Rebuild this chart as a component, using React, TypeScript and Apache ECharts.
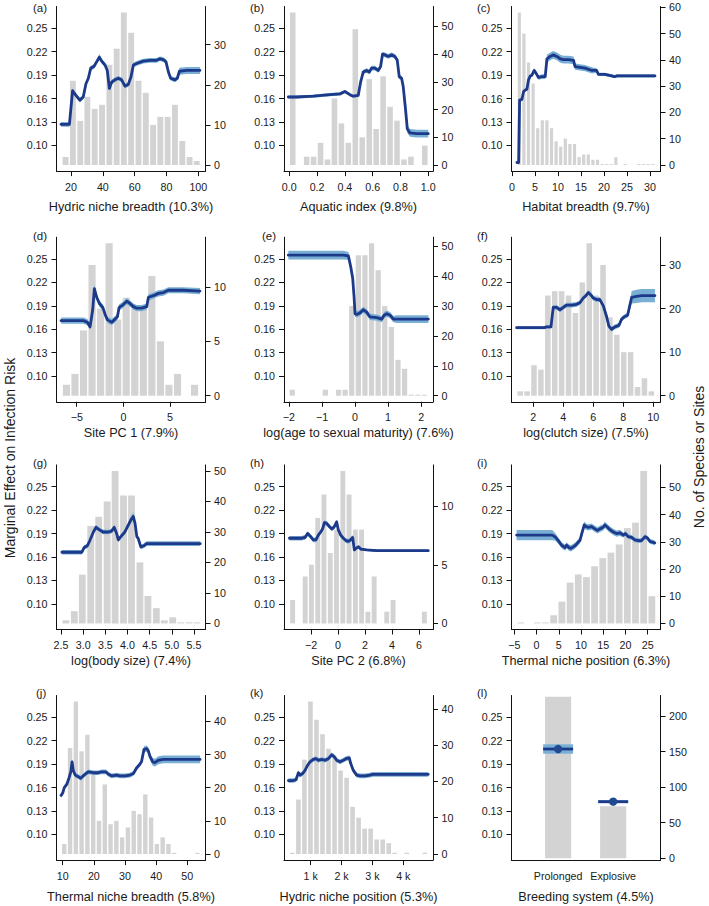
import React, { useEffect, useRef } from "react";
import * as echarts from "echarts";

// ---------------- (a) Hydric niche breadth ----------------
const hydBreadthBins = [16.6, 21.2, 25.8, 30.3, 34.9, 39.5, 44.1, 48.7, 53.2, 57.8, 62.4, 67.0, 71.6, 76.1, 80.7, 85.3, 89.9, 94.5, 99.0];
const hydBreadthCounts = [2, 21, 11, 17, 14, 15, 25, 29, 38, 33, 21, 18, 10, 12, 12, 15, 6, 2, 1];
const hydBreadthX = [13.7, 19.0, 21.0, 23.1, 25.6, 27.7, 29.4, 30.9, 32.4, 34.4, 36.1, 37.8, 39.3, 41.4, 42.8, 44.1, 45.5, 47.6, 49.7, 51.8, 53.9, 56.0, 57.7, 59.2, 61.3, 65.4, 69.6, 73.8, 75.9, 78.0, 79.7, 81.2, 82.6, 85.3, 86.8, 88.1, 92.7, 101.0];
const hydBreadthEffect = [0.127, 0.127, 0.170, 0.164, 0.158, 0.162, 0.179, 0.186, 0.199, 0.201, 0.207, 0.213, 0.208, 0.203, 0.196, 0.173, 0.181, 0.184, 0.186, 0.184, 0.176, 0.178, 0.188, 0.203, 0.205, 0.208, 0.209, 0.209, 0.211, 0.210, 0.207, 0.194, 0.186, 0.184, 0.186, 0.195, 0.196, 0.196];
const hydBreadthCI = [0.003, 0.003, 0.003, 0.003, 0.003, 0.003, 0.003, 0.003, 0.003, 0.003, 0.003, 0.004, 0.003, 0.003, 0.003, 0.003, 0.003, 0.003, 0.003, 0.003, 0.003, 0.003, 0.003, 0.003, 0.003, 0.003, 0.003, 0.003, 0.003, 0.003, 0.003, 0.003, 0.003, 0.003, 0.003, 0.0045, 0.0045, 0.0045];

// ---------------- (b) Aquatic index ----------------
const aquaticBins = [0.025, 0.125, 0.175, 0.225, 0.275, 0.325, 0.375, 0.425, 0.475, 0.525, 0.575, 0.625, 0.675, 0.725, 0.775, 0.825, 0.875, 0.975];
const aquaticCounts = [55, 3, 3, 8, 2, 24, 15, 8, 49, 10, 31, 13, 32, 21, 16, 2, 3, 7];
const aquaticX = [-0.007, 0.053, 0.173, 0.293, 0.365, 0.400, 0.436, 0.460, 0.496, 0.513, 0.532, 0.556, 0.576, 0.592, 0.616, 0.640, 0.657, 0.671, 0.688, 0.712, 0.736, 0.760, 0.777, 0.791, 0.808, 0.820, 0.837, 0.849, 0.868, 0.916, 1.0];
const aquaticEffect = [0.162, 0.162, 0.163, 0.165, 0.166, 0.169, 0.165, 0.163, 0.164, 0.181, 0.194, 0.196, 0.194, 0.199, 0.199, 0.196, 0.201, 0.217, 0.216, 0.214, 0.216, 0.214, 0.209, 0.188, 0.186, 0.175, 0.145, 0.121, 0.116, 0.115, 0.115];
const aquaticCI = [0.002, 0.002, 0.002, 0.002, 0.002, 0.002, 0.002, 0.002, 0.002, 0.003, 0.003, 0.003, 0.003, 0.003, 0.003, 0.003, 0.003, 0.003, 0.003, 0.003, 0.003, 0.003, 0.003, 0.003, 0.003, 0.003, 0.005, 0.005, 0.005, 0.005, 0.005];

// ---------------- (c) Habitat breadth ----------------
const habitatBins = [1.6, 2.6, 3.6, 4.6, 5.6, 6.6, 7.6, 8.6, 9.6, 10.6, 11.6, 12.6, 13.6, 14.6, 15.6, 16.6, 17.6, 18.6, 19.6, 20.6, 21.6, 22.6, 23.6, 24.6, 25.6, 26.6, 27.6, 28.6, 29.6, 30.6];
const habitatCounts = [58, 50, 39, 31, 14, 17, 17, 14, 9, 7, 10, 8, 8, 3, 4, 4, 2, 2, 0.35, 0.35, 0.35, 3, 0, 0.35, 0, 0, 0.35, 0.35, 0.35, 0.35];
const habitatX = [1.08, 1.45, 1.66, 2.17, 2.53, 2.9, 3.25, 3.6, 3.98, 4.34, 4.84, 5.28, 5.78, 6.5, 7.23, 7.6, 8.3, 9.0, 9.76, 10.5, 11.2, 12.3, 13.4, 13.7, 14.8, 15.9, 17.4, 18.4, 18.8, 20.2, 21.7, 22.3, 22.8, 26.0, 31.1];
const habitatEffect = [0.078, 0.078, 0.158, 0.159, 0.169, 0.171, 0.172, 0.184, 0.189, 0.190, 0.196, 0.192, 0.187, 0.188, 0.188, 0.211, 0.214, 0.216, 0.214, 0.211, 0.210, 0.210, 0.209, 0.201, 0.200, 0.199, 0.196, 0.196, 0.191, 0.191, 0.189, 0.188, 0.189, 0.189, 0.189];
const habitatCI = [0.002, 0.002, 0.002, 0.002, 0.002, 0.002, 0.002, 0.002, 0.002, 0.002, 0.003, 0.003, 0.003, 0.003, 0.003, 0.005, 0.005, 0.005, 0.005, 0.005, 0.005, 0.005, 0.005, 0.004, 0.004, 0.004, 0.004, 0.003, 0.002, 0.002, 0.002, 0.002, 0.002, 0.002, 0.002];

// ---------------- (d) Site PC 1 ----------------
const pc1Bins = [-6.10, -5.19, -4.27, -3.36, -2.44, -1.53, -0.61, 0.30, 1.22, 2.14, 3.05, 3.97, 4.88, 5.80, 6.71, 7.63];
const pc1Counts = [1, 2, 6, 12, 8, 14, 7, 9, 8, 8, 11, 5, 1, 2, 0, 1];
const pc1X = [-6.68, -5.71, -4.29, -3.86, -3.57, -3.29, -3.11, -2.86, -2.57, -2.21, -1.96, -1.71, -1.25, -0.89, -0.64, -0.46, -0.07, 0.36, 0.71, 1.07, 1.43, 1.96, 2.5, 2.68, 3.21, 3.75, 4.29, 4.82, 6.43, 8.21];
const pc1Effect = [0.171, 0.171, 0.171, 0.169, 0.163, 0.185, 0.212, 0.201, 0.193, 0.188, 0.179, 0.172, 0.169, 0.173, 0.176, 0.188, 0.191, 0.196, 0.193, 0.189, 0.187, 0.187, 0.189, 0.201, 0.203, 0.206, 0.207, 0.210, 0.210, 0.209];
const pc1CI = [0.004, 0.004, 0.004, 0.004, 0.004, 0.004, 0.005, 0.004, 0.004, 0.004, 0.004, 0.004, 0.004, 0.004, 0.004, 0.004, 0.004, 0.004, 0.004, 0.004, 0.004, 0.004, 0.004, 0.004, 0.004, 0.004, 0.004, 0.004, 0.004, 0.004];

// ---------------- (e) log(age to sexual maturity) ----------------
const ageBins = [-1.9, -0.9, -0.5, -0.3, -0.1, 0.1, 0.3, 0.5, 0.7, 0.9, 1.1, 1.3, 1.5, 1.7, 1.9, 2.1];
const ageCounts = [2, 2, 2, 2, 30, 47, 47, 51, 42, 30, 23, 12, 9, 0.35, 0.35, 0.35];
const ageX = [-2.02, -1.26, -0.76, -0.35, -0.20, -0.13, -0.07, -0.03, 0.0, 0.05, 0.15, 0.25, 0.35, 0.45, 0.66, 0.81, 0.88, 0.96, 1.06, 1.16, 1.26, 1.87, 2.22];
const ageEffect = [0.255, 0.255, 0.255, 0.255, 0.254, 0.240, 0.225, 0.202, 0.180, 0.179, 0.181, 0.185, 0.182, 0.176, 0.175, 0.173, 0.178, 0.180, 0.178, 0.173, 0.173, 0.173, 0.173];
const ageCI = [0.0055, 0.0055, 0.0055, 0.0055, 0.005, 0.004, 0.004, 0.004, 0.004, 0.004, 0.004, 0.004, 0.004, 0.004, 0.004, 0.004, 0.004, 0.004, 0.004, 0.004, 0.005, 0.005, 0.005];

// ---------------- (f) log(clutch size) ----------------
const clutchBins = [1.13, 1.59, 2.05, 2.51, 2.97, 3.43, 3.89, 4.35, 4.81, 5.27, 5.73, 6.19, 6.65, 7.11, 7.57, 8.03, 8.49, 8.95, 9.41, 9.87];
const clutchCounts = [1, 1, 7, 6, 23, 24, 24, 23, 19, 26, 35, 23, 30, 18, 14, 10, 10, 2, 4, 1];
const clutchX = [0.89, 1.89, 2.73, 2.89, 3.18, 3.33, 3.56, 3.78, 4.0, 4.22, 4.56, 4.89, 5.11, 5.33, 5.51, 5.67, 5.84, 6.0, 6.22, 6.44, 6.67, 6.89, 7.04, 7.22, 7.44, 7.71, 7.89, 8.07, 8.29, 8.44, 8.56, 8.89, 9.22, 10.11];
const clutchEffect = [0.162, 0.162, 0.162, 0.163, 0.163, 0.188, 0.188, 0.185, 0.188, 0.191, 0.191, 0.192, 0.194, 0.200, 0.203, 0.207, 0.204, 0.200, 0.198, 0.198, 0.190, 0.176, 0.164, 0.160, 0.163, 0.165, 0.173, 0.176, 0.178, 0.191, 0.201, 0.202, 0.203, 0.203];
const clutchCI = [0.002, 0.002, 0.002, 0.002, 0.002, 0.003, 0.003, 0.003, 0.003, 0.003, 0.003, 0.003, 0.003, 0.003, 0.003, 0.003, 0.003, 0.003, 0.003, 0.003, 0.003, 0.003, 0.003, 0.003, 0.003, 0.003, 0.003, 0.003, 0.003, 0.006, 0.008, 0.0085, 0.0085, 0.0085];

// ---------------- (g) log(body size) ----------------
const bodyBins = [2.61, 2.80, 2.98, 3.17, 3.35, 3.54, 3.72, 3.91, 4.09, 4.28, 4.46, 4.65, 4.83, 5.02, 5.20, 5.39, 5.57];
const bodyCounts = [1, 4, 16, 32, 35, 40, 50, 42, 42, 20, 9, 5, 1, 2, 0.35, 0.35, 0.35];
const bodyX = [2.52, 2.78, 2.97, 3.02, 3.09, 3.15, 3.23, 3.29, 3.36, 3.45, 3.57, 3.64, 3.70, 3.76, 3.79, 3.85, 3.94, 4.02, 4.09, 4.13, 4.17, 4.21, 4.24, 4.30, 4.36, 4.43, 4.58, 4.88, 5.64];
const bodyEffect = [0.166, 0.166, 0.166, 0.172, 0.174, 0.181, 0.192, 0.198, 0.195, 0.192, 0.192, 0.193, 0.198, 0.189, 0.182, 0.186, 0.192, 0.201, 0.209, 0.212, 0.203, 0.186, 0.184, 0.173, 0.174, 0.177, 0.177, 0.177, 0.177];
const bodyCI = [0.003, 0.003, 0.003, 0.003, 0.003, 0.003, 0.003, 0.003, 0.003, 0.003, 0.003, 0.003, 0.003, 0.003, 0.003, 0.003, 0.003, 0.003, 0.0045, 0.005, 0.0045, 0.003, 0.003, 0.003, 0.003, 0.003, 0.003, 0.003, 0.003];

// ---------------- (h) Site PC 2 ----------------
const pc2Bins = [-3.36, -2.90, -2.43, -1.97, -1.50, -1.04, -0.57, -0.11, 0.36, 0.82, 1.29, 1.75, 2.22, 2.68, 3.15, 3.61, 4.08, 4.54, 5.01, 5.47, 5.94, 6.40];
const pc2Counts = [2, 0, 4, 5, 9, 11, 6, 8, 13, 11, 8, 8, 1, 4, 0, 1, 2, 0, 0, 0, 0, 1];
const pc2X = [-3.6, -3.31, -2.69, -2.44, -2.25, -2.07, -1.83, -1.63, -1.46, -1.28, -1.14, -1.01, -0.84, -0.64, -0.47, -0.3, -0.1, 0.02, 0.2, 0.4, 0.59, 0.77, 0.94, 1.09, 1.21, 1.33, 1.51, 1.7, 2.12, 2.86, 4.35, 6.69];
const pc2Effect = [0.184, 0.184, 0.184, 0.185, 0.190, 0.187, 0.182, 0.182, 0.188, 0.192, 0.196, 0.204, 0.203, 0.199, 0.196, 0.198, 0.205, 0.195, 0.188, 0.184, 0.181, 0.180, 0.182, 0.185, 0.169, 0.171, 0.173, 0.170, 0.169, 0.168, 0.168, 0.168];
const pc2CI = [0.003, 0.003, 0.003, 0.003, 0.003, 0.003, 0.003, 0.003, 0.003, 0.003, 0.003, 0.003, 0.003, 0.003, 0.003, 0.003, 0.003, 0.003, 0.003, 0.003, 0.003, 0.003, 0.003, 0.003, 0.002, 0.002, 0.002, 0.002, 0.0015, 0.0015, 0.0015, 0.0015];

// ---------------- (i) Thermal niche position ----------------
const thermPosBins = [-3.5, -1.66, 0.18, 2.02, 3.86, 5.70, 7.54, 9.38, 11.22, 13.06, 14.90, 16.74, 18.58, 20.42, 22.26, 24.10, 25.94];
const thermPosCounts = [0.35, 0, 0.35, 0.35, 3, 8, 15, 18, 17, 21, 24, 26, 29, 35, 37, 56, 10];
const thermPosX = [-4.48, -1.1, 1.9, 3.54, 4.14, 4.89, 5.64, 6.39, 6.76, 7.28, 7.73, 8.26, 8.78, 9.38, 9.76, 10.13, 10.73, 11.1, 11.63, 12.38, 13.13, 13.73, 14.25, 15.0, 15.37, 15.97, 16.5, 17.25, 18.0, 18.75, 19.5, 20.0, 20.6, 21.4, 22.1, 22.9, 23.6, 24.4, 25.0, 25.5, 26.6];
const thermPosEffect = [0.188, 0.188, 0.188, 0.188, 0.186, 0.181, 0.175, 0.172, 0.175, 0.172, 0.171, 0.173, 0.175, 0.179, 0.181, 0.189, 0.201, 0.199, 0.198, 0.199, 0.196, 0.194, 0.196, 0.198, 0.201, 0.198, 0.195, 0.192, 0.190, 0.191, 0.188, 0.190, 0.186, 0.185, 0.182, 0.181, 0.181, 0.186, 0.184, 0.180, 0.178];
const thermPosCI = [0.0065, 0.0065, 0.0065, 0.0065, 0.005, 0.004, 0.004, 0.004, 0.004, 0.004, 0.004, 0.004, 0.004, 0.004, 0.004, 0.004, 0.0045, 0.004, 0.004, 0.004, 0.004, 0.004, 0.004, 0.004, 0.004, 0.004, 0.004, 0.004, 0.004, 0.004, 0.003, 0.003, 0.003, 0.003, 0.003, 0.003, 0.003, 0.003, 0.003, 0.003, 0.003];

// ---------------- (j) Thermal niche breadth ----------------
const thermBrBins = [10.50, 12.36, 14.22, 16.07, 17.93, 19.79, 21.65, 23.51, 25.36, 27.22, 29.08, 30.94, 32.80, 34.65, 36.51, 38.37, 40.23, 42.09, 43.94, 45.80, 47.66, 49.52, 51.38, 53.23];
const thermBrCounts = [3, 32, 46, 31, 36, 24, 10, 21, 9, 10, 5, 8, 13, 12, 18, 11, 3, 5, 3, 0.35, 0, 0, 0, 0.35];
const thermBrX = [9.47, 10.0, 10.5, 11.3, 12.0, 12.6, 13.0, 13.4, 14.0, 15.0, 15.8, 16.6, 17.5, 18.2, 19.8, 21.4, 22.5, 23.9, 24.7, 25.7, 27.3, 28.4, 30.0, 31.6, 32.7, 33.7, 34.6, 35.3, 36.1, 37.0, 37.5, 38.0, 38.9, 39.6, 40.7, 42.3, 46.6, 54.1];
const thermBrEffect = [0.150, 0.153, 0.160, 0.164, 0.172, 0.180, 0.193, 0.182, 0.176, 0.174, 0.172, 0.175, 0.178, 0.180, 0.179, 0.179, 0.180, 0.180, 0.177, 0.175, 0.176, 0.175, 0.175, 0.176, 0.178, 0.185, 0.189, 0.193, 0.209, 0.210, 0.207, 0.200, 0.193, 0.192, 0.195, 0.196, 0.196, 0.196];
const thermBrCI = [0.003, 0.003, 0.003, 0.003, 0.003, 0.003, 0.003, 0.003, 0.003, 0.003, 0.003, 0.003, 0.003, 0.003, 0.003, 0.003, 0.003, 0.003, 0.003, 0.003, 0.003, 0.003, 0.003, 0.003, 0.003, 0.003, 0.003, 0.003, 0.004, 0.004, 0.004, 0.004, 0.005, 0.005, 0.005, 0.005, 0.005, 0.005];

// ---------------- (k) Hydric niche position ----------------
const hydPosBins = [407, 602, 797, 992, 1187, 1382, 1577, 1772, 1967, 2162, 2357, 2552, 2747, 2942, 3137, 3332, 3527, 3722, 3917, 4112, 4307, 4502, 4697];
const hydPosCounts = [0.35, 15, 26, 42, 37, 33, 29, 27, 23, 21, 13, 10, 7, 7, 4, 4, 3, 0.35, 0, 0.35, 0, 0, 0.35];
const hydPosX = [277, 439, 525, 601, 655, 741, 817, 892, 978, 1086, 1173, 1248, 1356, 1464, 1572, 1680, 1755, 1841, 1949, 2057, 2143, 2251, 2294, 2381, 2489, 2597, 2758, 2920, 3006, 3244, 3783, 4808];
const hydPosEffect = [0.169, 0.169, 0.170, 0.179, 0.176, 0.178, 0.182, 0.188, 0.193, 0.196, 0.197, 0.195, 0.196, 0.195, 0.197, 0.202, 0.200, 0.195, 0.193, 0.195, 0.197, 0.198, 0.191, 0.182, 0.176, 0.175, 0.175, 0.176, 0.177, 0.177, 0.177, 0.177];
const hydPosCI = [0.003, 0.003, 0.003, 0.003, 0.003, 0.003, 0.003, 0.003, 0.003, 0.003, 0.003, 0.003, 0.003, 0.003, 0.003, 0.003, 0.003, 0.003, 0.003, 0.003, 0.003, 0.003, 0.003, 0.003, 0.003, 0.003, 0.003, 0.003, 0.003, 0.003, 0.003, 0.003];

// ---------------- (l) Breeding system ----------------
const breedingCategories = ["Prolonged", "Explosive"];
const breedingPositions = [1, 2];
const breedingCounts = [227, 73];
const breedingEffect = [0.2094, 0.1419];
const breedingCI = [0.006, 0.002];

// ---------------- tick labels ----------------
const effectTicks = [0.1, 0.13, 0.16, 0.19, 0.22, 0.25];

// ---------------- styling / layout ----------------
const FONT = '"Liberation Sans", Arial, Helvetica, sans-serif';
const BAR = "#d3d3d3";
const LINE = "#1d398a";
const BAND = "#79afd5";
const AXIS = "#111111";
const TXT = "#1a1a1a";
const EFF_MIN = 0.067;
const EFF_MAX = 0.278;
const COL_LEFT = [56.5, 284, 511.5];
const ROW_TOP = [6.5, 237.2, 464.9, 695.5];
const PLOT_W = 149;
const PLOT_H = 164.6;
const NAME_GAP = [29.5, 24.5, 25, 30];
const TAG_X = [33, 250, 477, 33, 262, 477, 33, 250, 477, 36, 250, 477];
const TAG_Y = [8, 236, 463, 693];

const minus = (v: number) => String(v).replace("-", "\u2212");

type Panel = {
  tag: string;
  title: string;
  bins: number[];
  counts: number[];
  binW: number;
  x?: number[];
  y?: number[];
  ci?: number[];
  xMin: number;
  xMax: number;
  xTicks: number[];
  xFmt: (v: number) => string;
  cMin: number;
  cMax: number;
  cTicks: number[];
  categorical?: boolean;
};

const PANELS: Panel[] = [
  { tag: "a", title: "Hydric niche breadth (10.3%)", bins: hydBreadthBins, counts: hydBreadthCounts, binW: 4.58, x: hydBreadthX, y: hydBreadthEffect, ci: hydBreadthCI, xMin: 10.9, xMax: 104.5, xTicks: [20, 40, 60, 80, 100], xFmt: minus, cMin: -1.52, cMax: 39.52, cTicks: [0, 10, 20, 30] },
  { tag: "b", title: "Aquatic index (9.8%)", bins: aquaticBins, counts: aquaticCounts, binW: 0.05, x: aquaticX, y: aquaticEffect, ci: aquaticCI, xMin: -0.038, xMax: 1.034, xTicks: [0, 0.2, 0.4, 0.6, 0.8, 1.0], xFmt: (v) => v.toFixed(1), cMin: -2.2, cMax: 57.2, cTicks: [0, 10, 20, 30, 40, 50] },
  { tag: "c", title: "Habitat breadth (9.7%)", bins: habitatBins, counts: habitatCounts, binW: 1, x: habitatX, y: habitatEffect, ci: habitatCI, xMin: -0.1, xMax: 32.3, xTicks: [0, 5, 10, 15, 20, 25, 30], xFmt: minus, cMin: -2.32, cMax: 60.32, cTicks: [0, 10, 20, 30, 40, 50, 60] },
  { tag: "d", title: "Site PC 1 (7.9%)", bins: pc1Bins, counts: pc1Counts, binW: 0.915, x: pc1X, y: pc1Effect, ci: pc1CI, xMin: -7.17, xMax: 8.8, xTicks: [-5, 0, 5], xFmt: minus, cMin: -0.56, cMax: 14.56, cTicks: [0, 5, 10] },
  { tag: "e", title: "log(age to sexual maturity) (7.6%)", bins: ageBins, counts: ageCounts, binW: 0.2, x: ageX, y: ageEffect, ci: ageCI, xMin: -2.15, xMax: 2.36, xTicks: [-2, -1, 0, 1, 2], xFmt: minus, cMin: -2.04, cMax: 53.04, cTicks: [0, 10, 20, 30, 40, 50] },
  { tag: "f", title: "log(clutch size) (7.5%)", bins: clutchBins, counts: clutchCounts, binW: 0.46, x: clutchX, y: clutchEffect, ci: clutchCI, xMin: 0.55, xMax: 10.48, xTicks: [2, 4, 6, 8, 10], xFmt: minus, cMin: -1.4, cMax: 36.4, cTicks: [0, 10, 20, 30] },
  { tag: "g", title: "log(body size) (7.4%)", bins: bodyBins, counts: bodyCounts, binW: 0.185, x: bodyX, y: bodyEffect, ci: bodyCI, xMin: 2.398, xMax: 5.759, xTicks: [2.5, 3.0, 3.5, 4.0, 4.5, 5.0, 5.5], xFmt: (v) => v.toFixed(1), cMin: -2, cMax: 52, cTicks: [0, 10, 20, 30, 40, 50] },
  { tag: "h", title: "Site PC 2 (6.8%)", bins: pc2Bins, counts: pc2Counts, binW: 0.465, x: pc2X, y: pc2Effect, ci: pc2CI, xMin: -4.0, xMax: 7.04, xTicks: [-2, 0, 2, 4, 6], xFmt: minus, cMin: -0.52, cMax: 13.52, cTicks: [0, 5, 10] },
  { tag: "i", title: "Thermal niche position (6.3%)", bins: thermPosBins, counts: thermPosCounts, binW: 1.84, x: thermPosX, y: thermPosEffect, ci: thermPosCI, xMin: -5.63, xMax: 27.88, xTicks: [-5, 0, 5, 10, 15, 20, 25], xFmt: minus, cMin: -2.24, cMax: 58.24, cTicks: [0, 10, 20, 30, 40, 50] },
  { tag: "j", title: "Thermal niche breadth (5.8%)", bins: thermBrBins, counts: thermBrCounts, binW: 1.858, x: thermBrX, y: thermBrEffect, ci: thermBrCI, xMin: 8.01, xMax: 55.84, xTicks: [10, 20, 30, 40, 50], xFmt: minus, cMin: -1.84, cMax: 47.84, cTicks: [0, 10, 20, 30, 40] },
  { tag: "k", title: "Hydric niche position (5.3%)", bins: hydPosBins, counts: hydPosCounts, binW: 195, x: hydPosX, y: hydPosEffect, ci: hydPosCI, xMin: 135, xMax: 4962, xTicks: [1000, 2000, 3000, 4000], xFmt: (v) => `${v / 1000} k`, cMin: -1.68, cMax: 43.68, cTicks: [0, 10, 20, 30, 40] },
  { tag: "l", title: "Breeding system (4.5%)", bins: breedingPositions, counts: breedingCounts, binW: 0.5, xMin: 0.153, xMax: 2.86, xTicks: breedingPositions, xFmt: (v) => breedingCategories[Math.round(v) - 1] ?? "", cMin: -2.5, cMax: 228.8, cTicks: [0, 50, 100, 150, 200], categorical: true },
];

const histRender = (w: number) => (_params: any, api: any) => {
  const cx = api.value(0);
  const n = api.value(1);
  if (!n) return null;
  const p0 = api.coord([cx - w / 2, n]);
  const p1 = api.coord([cx + w / 2, 0]);
  const left = p0[0] + 0.7;
  const right = p1[0] - 0.7;
  return {
    type: "rect",
    shape: { x: left, y: p0[1], width: Math.max(right - left, 0.6), height: p1[1] - p0[1] },
    style: { fill: BAR },
  };
};

const bandRender = (xs: number[], ys: number[], cis: number[]) => (_params: any, api: any) => {
  const up = xs.map((x, j) => api.coord([x, ys[j] + cis[j]]));
  const lo = xs.map((x, j) => api.coord([x, ys[j] - cis[j]])).reverse();
  return { type: "polygon", shape: { points: up.concat(lo) }, style: { fill: BAND } };
};

const effectRender = (_params: any, api: any) => {
  const c = api.value(0);
  const e = api.value(1);
  const s = api.value(2);
  const hw = 0.272;
  const a = api.coord([c - hw, e + s]);
  const b = api.coord([c + hw, e - s]);
  const l0 = api.coord([c - hw, e]);
  const l1 = api.coord([c + hw, e]);
  const m = api.coord([c, e]);
  return {
    type: "group",
    children: [
      { type: "rect", shape: { x: a[0], y: a[1], width: b[0] - a[0], height: b[1] - a[1] }, style: { fill: BAND } },
      { type: "line", shape: { x1: l0[0], y1: l0[1], x2: l1[0], y2: l1[1] }, style: { stroke: LINE, lineWidth: 2.8 } },
      { type: "circle", shape: { cx: m[0], cy: m[1], r: 4.2 }, style: { fill: "#1f4a90" } },
    ],
  };
};

function buildOption() {
  const grid: any[] = [];
  const xAxis: any[] = [];
  const yAxis: any[] = [];
  const series: any[] = [];
  const graphic: any[] = [];
  const labelStyle = { fontSize: 10.7, fontFamily: FONT, color: TXT };

  PANELS.forEach((p, i) => {
    const row = Math.floor(i / 3);
    const col = i % 3;
    grid.push({ left: COL_LEFT[col], top: ROW_TOP[row], width: PLOT_W, height: PLOT_H, containLabel: false, outerBoundsMode: "none" });
    xAxis.push({
      type: "value", gridIndex: i, min: p.xMin, max: p.xMax,
      name: p.title, nameLocation: "middle", nameGap: NAME_GAP[row],
      nameTextStyle: { fontSize: 12.7, fontFamily: FONT, color: TXT },
      axisLine: { show: true, onZero: false, lineStyle: { color: AXIS, width: 1 } },
      axisTick: { show: !p.categorical, inside: false, length: 5, customValues: p.xTicks, lineStyle: { color: AXIS, width: 1 } },
      axisLabel: { show: true, customValues: p.xTicks, formatter: p.xFmt, margin: 10, ...labelStyle },
      splitLine: { show: false },
    });
    yAxis.push({
      type: "value", gridIndex: i, position: "left", min: EFF_MIN, max: EFF_MAX,
      axisLine: { show: true, onZero: false, lineStyle: { color: AXIS, width: 1 } },
      axisTick: { show: true, inside: false, length: 5, customValues: effectTicks, lineStyle: { color: AXIS, width: 1 } },
      axisLabel: { show: true, customValues: effectTicks, formatter: (v: number) => v.toFixed(2), margin: 9, ...labelStyle },
      splitLine: { show: false },
    });
    yAxis.push({
      type: "value", gridIndex: i, position: "right", min: p.cMin, max: p.cMax,
      axisLine: { show: true, onZero: false, lineStyle: { color: AXIS, width: 1 } },
      axisTick: { show: true, inside: false, length: 5, customValues: p.cTicks, lineStyle: { color: AXIS, width: 1 } },
      axisLabel: { show: true, customValues: p.cTicks, formatter: (v: number) => String(v), margin: 8.5, ...labelStyle },
      splitLine: { show: false },
    });

    series.push({
      type: "custom", xAxisIndex: i, yAxisIndex: 2 * i + 1, z: 1, silent: true,
      data: p.bins.map((b, j) => [b, p.counts[j]]),
      renderItem: histRender(p.binW),
    });

    if (p.categorical) {
      series.push({
        type: "custom", xAxisIndex: i, yAxisIndex: 2 * i, z: 3, silent: true,
        data: breedingPositions.map((c, j) => [c, breedingEffect[j], breedingCI[j]]),
        renderItem: effectRender,
      });
    } else if (p.x && p.y && p.ci) {
      series.push({
        type: "custom", xAxisIndex: i, yAxisIndex: 2 * i, z: 2, silent: true,
        data: [[p.x[0], p.y[0]]],
        renderItem: bandRender(p.x, p.y, p.ci),
      });
      series.push({
        type: "line", xAxisIndex: i, yAxisIndex: 2 * i, z: 3, silent: true,
        data: p.x.map((x, j) => [x, p.y![j]]),
        showSymbol: false, symbol: "none",
        lineStyle: { color: LINE, width: 2.8, join: "round", cap: "round" },
      });
    }

    graphic.push({
      type: "text", x: TAG_X[i], y: TAG_Y[row], silent: true,
      style: { text: `(${p.tag})`, fontSize: 11.5, fontFamily: FONT, fill: TXT, verticalAlign: "middle" },
    });
  });

  graphic.push({
    type: "text", x: 10, y: 458, rotation: Math.PI / 2, silent: true,
    style: { text: "Marginal Effect on Infection Risk", fontSize: 14, fontFamily: FONT, fill: TXT, align: "center", verticalAlign: "middle" },
  });
  graphic.push({
    type: "text", x: 699, y: 457, rotation: Math.PI / 2, silent: true,
    style: { text: "No. of Species or Sites", fontSize: 14, fontFamily: FONT, fill: TXT, align: "center", verticalAlign: "middle" },
  });

  return { animation: false, backgroundColor: "#ffffff", grid, xAxis, yAxis, series, graphic };
}

export default function App() {
  const ref = useRef<HTMLDivElement>(null);
  useEffect(() => {
    if (!ref.current) return;
    const chart = echarts.init(ref.current, null, { renderer: "svg" });
    chart.setOption(buildOption() as any);
    return () => chart.dispose();
  }, []);
  return <div ref={ref} style={{ position: "absolute", left: 0, top: 0, width: 709, height: 906, background: "#fff" }} />;
}
